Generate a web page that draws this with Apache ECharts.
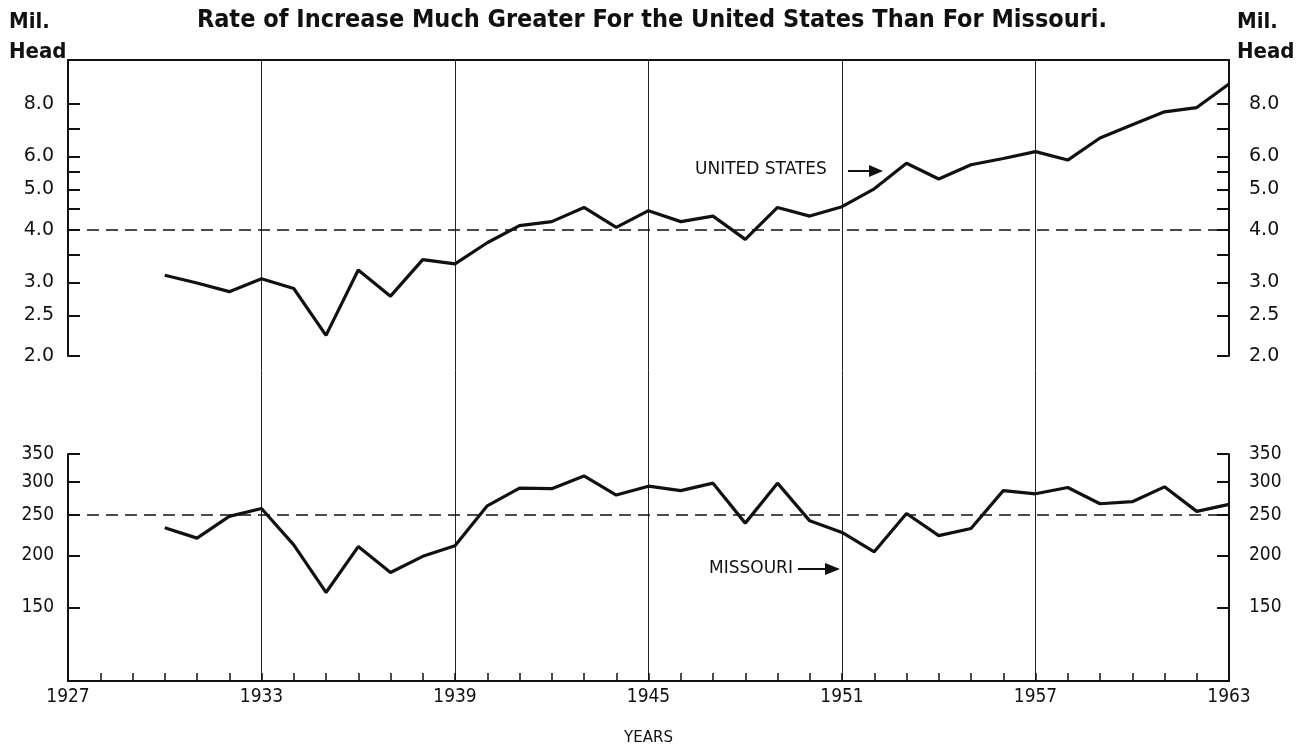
<!DOCTYPE html>
<html><head><meta charset="utf-8">
<script src="https://cdn.jsdelivr.net/npm/echarts@6/dist/echarts.min.js"></script>
<style>html,body{margin:0;background:#fff}#c{width:1313px;height:753px}</style>
</head><body><div id="c"></div>
<script>
const years = [1930,1931,1932,1933,1934,1935,1936,1937,1938,1939,1940,1941,1942,1943,1944,1945,1946,1947,1948,1949,1950,1951,1952,1953,1954,1955,1956,1957,1958,1959,1960,1961,1962,1963];
const usHead = [3.12,2.99,2.85,3.06,2.90,2.24,3.21,2.78,3.40,3.32,3.73,4.10,4.19,4.53,4.06,4.45,4.19,4.32,3.80,4.53,4.32,4.55,5.02,5.78,5.30,5.73,5.93,6.16,5.88,6.64,7.14,7.67,7.85,8.94];
const moHead = [233,220,248,259,212,163,210,182,199,211,263,290,289,310,279,293,286,298,239,298,242,227,204,252,223,232,286,281,291,266,269,292,255,265];
const usTickValues = [2,2.5,3,3.5,4,4.5,5,5.5,6,7,8];
const usLabelValues = [2,2.5,3,4,5,6,8];
const moTickValues = [150,200,250,300,350];
const xLabelYears = [1927,1933,1939,1945,1951,1957,1963];
const usRef = 4;
const moRef = 250;

const chart = echarts.init(document.getElementById('c'));
const black = '#111';
const numFont = "'DejaVu Sans', sans-serif";
const narrowFont = "'DejaVu Sans Condensed', 'Liberation Sans Narrow', sans-serif";

function yAx(grid, pos, min, max, ticks, labels, fmt, font, size, margin) {
  return {
    type: 'log', gridIndex: grid, position: pos, min: min, max: max, logBase: 10,
    axisLine: { show: true, lineStyle: { color: black, width: 2 } },
    axisTick: { show: true, inside: true, length: 12, customValues: ticks, lineStyle: { color: black, width: 2 } },
    axisLabel: { show: true, customValues: labels, formatter: fmt, color: black, fontSize: size, fontFamily: font, margin: margin },
    splitLine: { show: false }
  };
}

const option = {
  animation: false,
  backgroundColor: '#fff',
  grid: [
    { left: 68, right: 84, top: 60, height: 296 },
    { left: 68, right: 84, top: 454, height: 227 },
    { left: 68, right: 84, top: 60, height: 621 }
  ],
  xAxis: [
    { type: 'value', gridIndex: 0, min: 1927, max: 1963, position: 'top',
      axisLine: { show: true, lineStyle: { color: black, width: 2 } },
      axisTick: { show: false }, axisLabel: { show: false }, splitLine: { show: false } },
    { type: 'value', gridIndex: 1, min: 1927, max: 1963, interval: 1, position: 'bottom',
      axisLine: { show: true, lineStyle: { color: black, width: 2 } },
      axisTick: { show: true, inside: true, length: 8, lineStyle: { color: black, width: 1.5 } },
      axisLabel: { show: true, color: black, fontSize: 19, fontFamily: narrowFont, margin: 7,
        formatter: v => xLabelYears.indexOf(v) >= 0 ? String(v) : '' },
      splitLine: { show: false },
      name: 'YEARS', nameLocation: 'middle', nameGap: 50,
      nameTextStyle: { color: black, fontSize: 15, fontFamily: numFont } },
    { type: 'value', gridIndex: 2, min: 1927, max: 1963, interval: 6,
      axisLine: { show: false }, axisTick: { show: false }, axisLabel: { show: false },
      splitLine: { show: true, showMinLine: false, showMaxLine: false, lineStyle: { color: '#222', width: 1 } } }
  ],
  yAxis: [
    yAx(0, 'left', 2, 10.2, usTickValues, usLabelValues, v => Number(v).toFixed(1), numFont, 19, 14),
    yAx(0, 'right', 2, 10.2, usTickValues, usLabelValues, v => Number(v).toFixed(1), numFont, 19, 20),
    yAx(1, 'left', 100, 350, moTickValues, moTickValues, v => String(v), narrowFont, 19, 14),
    yAx(1, 'right', 100, 350, moTickValues, moTickValues, v => String(v), narrowFont, 19, 20),
    { type: 'value', gridIndex: 2, min: 0, max: 1, show: false }
  ],
  series: [
    { type: 'line', name: 'United States', xAxisIndex: 0, yAxisIndex: 0,
      data: years.map((y, i) => [y, usHead[i]]), showSymbol: false,
      lineStyle: { color: black, width: 3.2 },
      markLine: { silent: true, symbol: 'none', label: { show: false },
        lineStyle: { color: black, type: [12, 7], width: 1.6 }, data: [{ yAxis: usRef }] } },
    { type: 'line', name: 'Missouri', xAxisIndex: 1, yAxisIndex: 2,
      data: years.map((y, i) => [y, moHead[i]]), showSymbol: false,
      lineStyle: { color: black, width: 3.2 },
      markLine: { silent: true, symbol: 'none', label: { show: false },
        lineStyle: { color: black, type: [12, 7], width: 1.6 }, data: [{ yAxis: moRef }] } }
  ],
  graphic: [
    { type: 'text', x: 652, y: 8, style: { text: 'Rate of Increase Much Greater For the United States Than For Missouri.',
      fill: black, align: 'center', font: "bold 25px 'DejaVu Sans Condensed', sans-serif" } },
    { type: 'text', left: 9, top: 7, style: { text: 'Mil.\nHead', fill: black, lineHeight: 30,
      font: "bold 22px 'DejaVu Sans Condensed', sans-serif" } },
    { type: 'text', left: 1237, top: 7, style: { text: 'Mil.\nHead', fill: black, lineHeight: 30,
      font: "bold 22px 'DejaVu Sans Condensed', sans-serif" } },
    { type: 'text', left: 695, top: 161, style: { text: 'UNITED STATES', fill: black, font: "17px 'DejaVu Sans', sans-serif" } },
    { type: 'line', shape: { x1: 848, y1: 171, x2: 872, y2: 171 }, style: { stroke: black, lineWidth: 2 } },
    { type: 'polygon', shape: { points: [[869, 165], [883, 171], [869, 177]] }, style: { fill: black } },
    { type: 'text', left: 709, top: 560, style: { text: 'MISSOURI', fill: black, font: "17px 'DejaVu Sans', sans-serif" } },
    { type: 'line', shape: { x1: 798, y1: 569, x2: 827, y2: 569 }, style: { stroke: black, lineWidth: 2 } },
    { type: 'polygon', shape: { points: [[825, 563], [840, 569], [825, 575]] }, style: { fill: black } }
  ]
};
chart.setOption(option);
</script>
</body></html>
